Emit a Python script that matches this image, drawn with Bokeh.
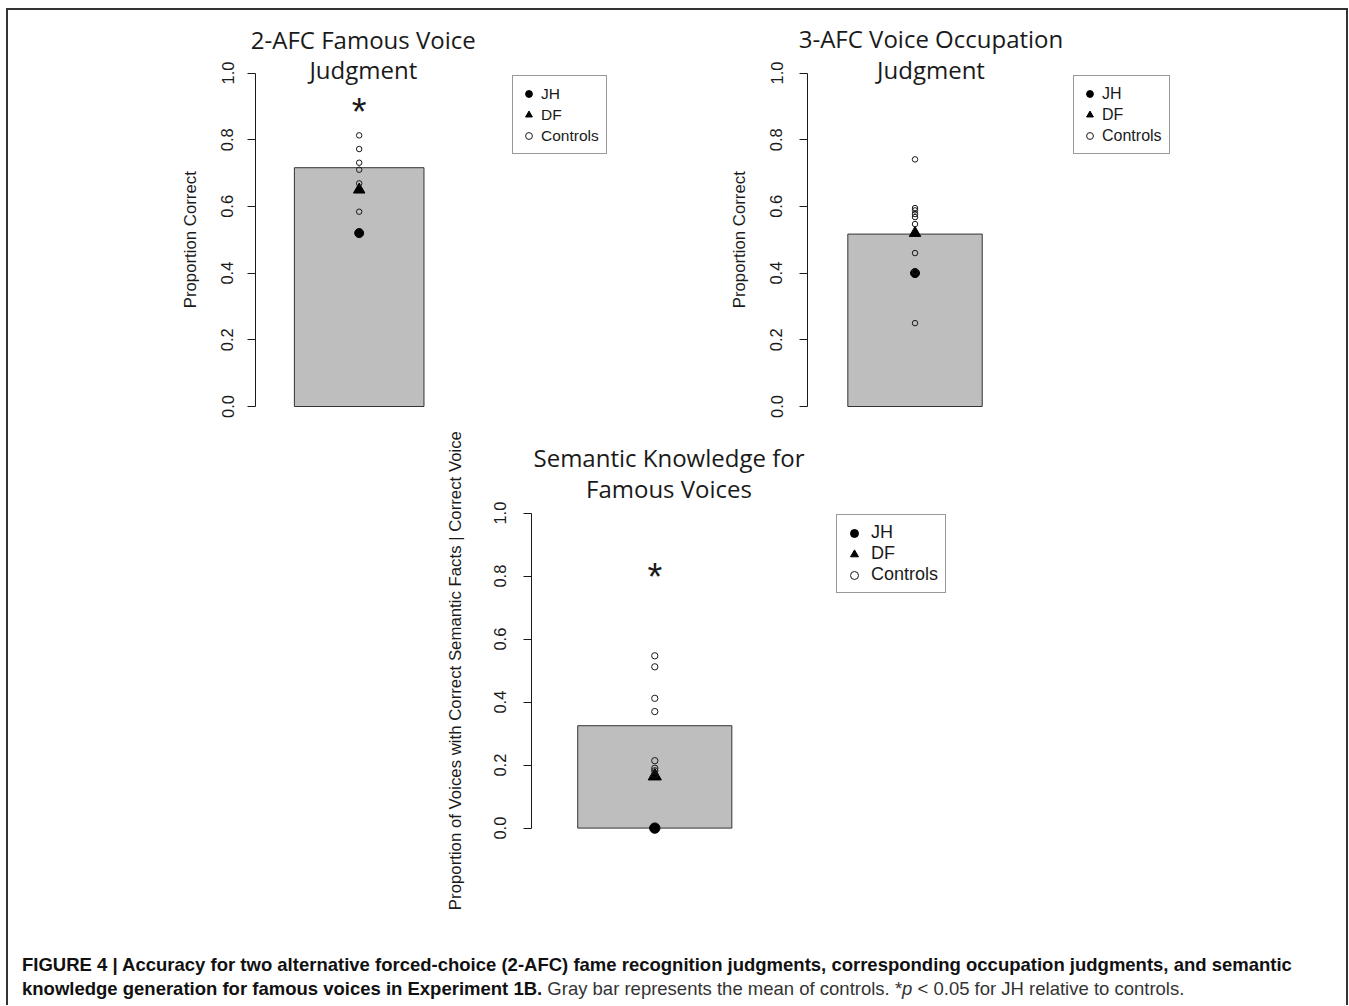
import math
from bokeh.plotting import figure
from bokeh.models import Range1d, FixedTicker, PrintfTickFormatter, Legend, LegendItem, Label, Div
from bokeh.layouts import row, column
from bokeh.embed import file_html
from bokeh.resources import INLINE
from bokeh.core.properties import value

# ---------------- data ----------------
panel_titles = [["2-AFC Famous Voice", "Judgment"],
                ["3-AFC Voice Occupation", "Judgment"],
                ["Semantic Knowledge for", "Famous Voices"]]
y_labels = ["Proportion Correct",
            "Proportion Correct",
            "Proportion of Voices with Correct Semantic Facts | Correct Voice"]
control_means = [0.716, 0.517, 0.325]          # gray bars (mean of controls)
jh_scores = [0.52, 0.40, 0.0]
df_scores = [0.65, 0.52, 0.165]
controls_2afc = [0.813, 0.772, 0.731, 0.710, 0.669, 0.584]
controls_3afc = [0.741, 0.595, 0.588, 0.577, 0.568, 0.547, 0.460, 0.405, 0.250]
controls_semantic = [0.547, 0.512, 0.412, 0.370, 0.214, 0.190, 0.182, 0.170]
controls_all = [controls_2afc, controls_3afc, controls_semantic]
significance_y = [0.90, None, 0.817]           # "*" p < 0.05 for JH
y_ticks = [0.0, 0.2, 0.4, 0.6, 0.8, 1.0]
legend_labels = ["JH", "DF", "Controls"]

BAR_X = 0.7
AXIS_X = -0.1
FONT = "Liberation Sans"
TITLE_FONT = "Open Sans"
INK = "#1a1a1a"


def make_panel(i, fig_box, frame_box, axis_px, y0_px, ky, kx, legend_box, legend_font,
               leg_glyph, title_px, ylabel_px, marker_scale, tick_standoff):
    """fig_box / frame_box: (left, top, right, bottom) in page pixels."""
    fl, ft, fr, fb = fig_box
    L, T, R, B = frame_box
    x_start = AXIS_X - (axis_px - L) / kx
    x_end = AXIS_X + (R - axis_px) / kx
    y_start = (y0_px - B) / ky
    y_end = (y0_px - T) / ky

    def dx(px):
        return AXIS_X + (px - axis_px) / kx

    def dy(py):
        return (y0_px - py) / ky

    p = figure(width=fr - fl, height=fb - ft,
               x_range=Range1d(x_start, x_end), y_range=Range1d(y_start, y_end),
               output_backend="svg", toolbar_location=None,
               x_axis_location=None, y_axis_location="left",
               min_border_left=L - fl, min_border_right=fr - R,
               min_border_top=T - ft, min_border_bottom=fb - B,
               outline_line_color=None, background_fill_color="white",
               border_fill_color="white")
    p.grid.visible = False

    ax = p.yaxis[0]
    ax.fixed_location = AXIS_X
    ax.bounds = (0, 1)
    ax.ticker = FixedTicker(ticks=y_ticks)
    ax.formatter = PrintfTickFormatter(format="%.1f")
    ax.major_label_orientation = "vertical"
    ax.minor_tick_line_color = None
    ax.major_tick_in = 0
    ax.major_tick_out = 8
    ax.axis_line_color = INK
    ax.major_tick_line_color = INK
    ax.major_label_text_font = FONT
    ax.major_label_text_font_size = "16.5px"
    ax.major_label_text_color = INK
    ax.major_label_standoff = tick_standoff

    # y-axis title (rotated, centred on the 0..1 axis)
    p.add_layout(Label(x=dx(ylabel_px), y=0.5, text=y_labels[i], angle=math.pi / 2,
                       text_font=FONT, text_font_size="16.8px", text_color=INK,
                       text_align="center", text_baseline="middle"))

    # bar = mean of controls
    p.vbar(x=[BAR_X], width=1.0, bottom=0, top=[control_means[i]],
           fill_color="#BEBEBE", line_color="#333333", line_width=1)

    r_jh = p.scatter(x=[BAR_X], y=[jh_scores[i]], marker="circle",
                     size=9 * marker_scale, fill_color="black", line_color="black")
    r_df = p.scatter(x=[BAR_X], y=[df_scores[i]], marker="triangle",
                     size=11.5 * marker_scale, fill_color="black", line_color="black")
    ctrl = controls_all[i]
    r_ct = p.scatter(x=[BAR_X] * len(ctrl), y=ctrl, marker="circle",
                     size=5.5 * marker_scale, fill_color=None, line_color=INK, line_width=1)

    if significance_y[i] is not None:
        p.text(x=[BAR_X], y=[significance_y[i]], text=["*"],
               text_font=value(FONT), text_font_size="38px",
               text_align="center", text_baseline="alphabetic",
               y_offset=6, text_color=INK)

    # two-line panel title
    tx, tys = title_px
    for line, ty in zip(panel_titles[i], tys):
        p.add_layout(Label(x=dx(tx), y=dy(ty), text=line,
                           text_font=TITLE_FONT, text_font_size="24px",
                           text_align="center", text_baseline="alphabetic",
                           text_color=INK))

    gw, gh = leg_glyph
    lg_left, lg_bottom = legend_box
    leg = Legend(items=[LegendItem(label=legend_labels[0], renderers=[r_jh]),
                        LegendItem(label=legend_labels[1], renderers=[r_df]),
                        LegendItem(label=legend_labels[2], renderers=[r_ct])],
                 location=(lg_left - L, B - lg_bottom), padding=7, spacing=0, margin=0,
                 glyph_width=gw, glyph_height=gh, label_height=gh,
                 label_standoff=4 if gw < 20 else 7,
                 label_text_font=FONT, label_text_font_size=legend_font,
                 label_text_color=INK,
                 border_line_color="#333333", border_line_width=1,
                 background_fill_color="white", background_fill_alpha=1)
    p.add_layout(leg)
    return p


# page coordinates (container content starts at x=8, y=10)
p1 = make_panel(0, (8, 10, 620, 430), (68, 20, 615, 425), 255, 406.0, 333.5, 129.6,
                (512, 154), "15.5px", (17, 21), (362.8, [38.5, 69.0]), 190, 1.0, 14)
p2 = make_panel(1, (620, 10, 1346, 430), (680, 20, 1180, 425), 807, 406.0, 333.5, 134.4,
                (1073, 154), "16px", (17, 21), (930.5, [38.0, 69.0]), 739, 1.0, 17)
p3 = make_panel(2, (8, 430, 1346, 937), (68, 430, 956, 935), 531, 827.6, 315.0, 154.1,
                (836, 593), "18px", (20, 20), (668.5, [457.0, 488.0]), 455, 1.15, 17)

caption = Div(
    text=("<div style=\"font-family:'Liberation Sans',sans-serif;"
          "font-size:18.5px;line-height:24px;color:#111;white-space:nowrap;padding:11px 0 0 9px;\">"
          "<b>FIGURE 4 | Accuracy for two alternative forced-choice (2-AFC) fame recognition judgments, "
          "corresponding occupation judgments, and semantic</b><br>"
          "<b>knowledge generation for famous voices in Experiment 1B.</b> "
          "<span style=\"color:#333\">Gray bar represents the mean of controls. *<i>p</i> &lt; 0.05 "
          "for JH relative to controls.</span></div>"),
    width=1338, height=58)

layout = column(row(p1, p2), p3, caption, width=1342, margin=(8, 0, 0, 6),
                styles={"border-left": "2px solid #333", "border-top": "2px solid #333",
                        "border-right": "2px solid #333"})

open("out.html", "w").write(file_html(layout, INLINE))
